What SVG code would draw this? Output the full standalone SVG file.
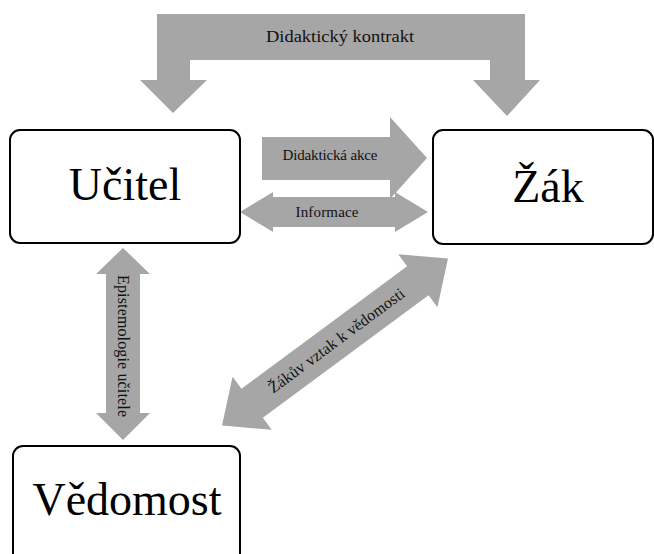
<svg xmlns="http://www.w3.org/2000/svg" width="654" height="554" viewBox="0 0 654 554">
<style>
.box{fill:#fff;stroke:#000;stroke-width:2}
.arr{fill:#a6a6a6;stroke:none}
.big{font-family:"Liberation Serif","Times New Roman",serif;font-size:46px;fill:#000;text-anchor:middle}
.lbl{font-family:"Liberation Serif","Times New Roman",serif;font-size:15px;fill:#111;text-anchor:middle}
</style>
<rect width="654" height="554" fill="#fff"/>
<g id="connectors">
<g id="c-kontrakt">
<path class="arr" d="M157,14 H525 V80 H540 L507,116 L473,80 H490 V60 H190 V80 H207 L173,113 L140,80 H157 Z"/>
<text class="lbl" x="340" y="42" style="font-size:17.5px" textLength="148" lengthAdjust="spacingAndGlyphs">Didaktický kontrakt</text>
</g>
<g id="c-akce">
<path class="arr" d="M262,137 H390 V117 L427,158 L390,199 V180 H262 Z"/>
<text class="lbl" x="330" y="160" textLength="95">Didaktická akce</text>
</g>
<g id="c-informace">
<path class="arr" d="M240,212 L273,192 V197 H395 V192 L428,212 L395,232 V227 H273 V232 Z"/>
<text class="lbl" x="327" y="217" textLength="63">Informace</text>
</g>
<g id="c-epistemologie">
<path class="arr" d="M123,248 L150,274 H140 V413 H150 L123,440 L96,413 H106 V274 H96 Z"/>
<text class="lbl" transform="translate(118,346) rotate(90)" x="0" y="0" style="font-size:16px" textLength="142">Epistemologie učitele</text>
</g>
<g id="c-vztah" transform="translate(335,342) rotate(-36.46)">
<path class="arr" d="M-140.5,0 L-103,-33 V-18 H103 V-33 L140.5,0 L103,33 V18 H-103 V33 Z"/>
<text class="lbl" x="2" y="5" style="font-size:16px" textLength="165">Žákův vztak k vědomosti</text>
</g>
</g>
<g id="n-ucitel">
<rect class="box" x="10" y="130" width="230" height="113" rx="10"/>
<text class="big" x="125" y="200">Učitel</text>
</g>
<g id="n-zak">
<rect class="box" x="433" y="130" width="220" height="114" rx="10"/>
<text class="big" x="548" y="202">Žák</text>
</g>
<g id="n-vedomost">
<rect class="box" x="13" y="446" width="227" height="130" rx="10"/>
<text class="big" x="127" y="515">Vědomost</text>
</g>
</svg>
